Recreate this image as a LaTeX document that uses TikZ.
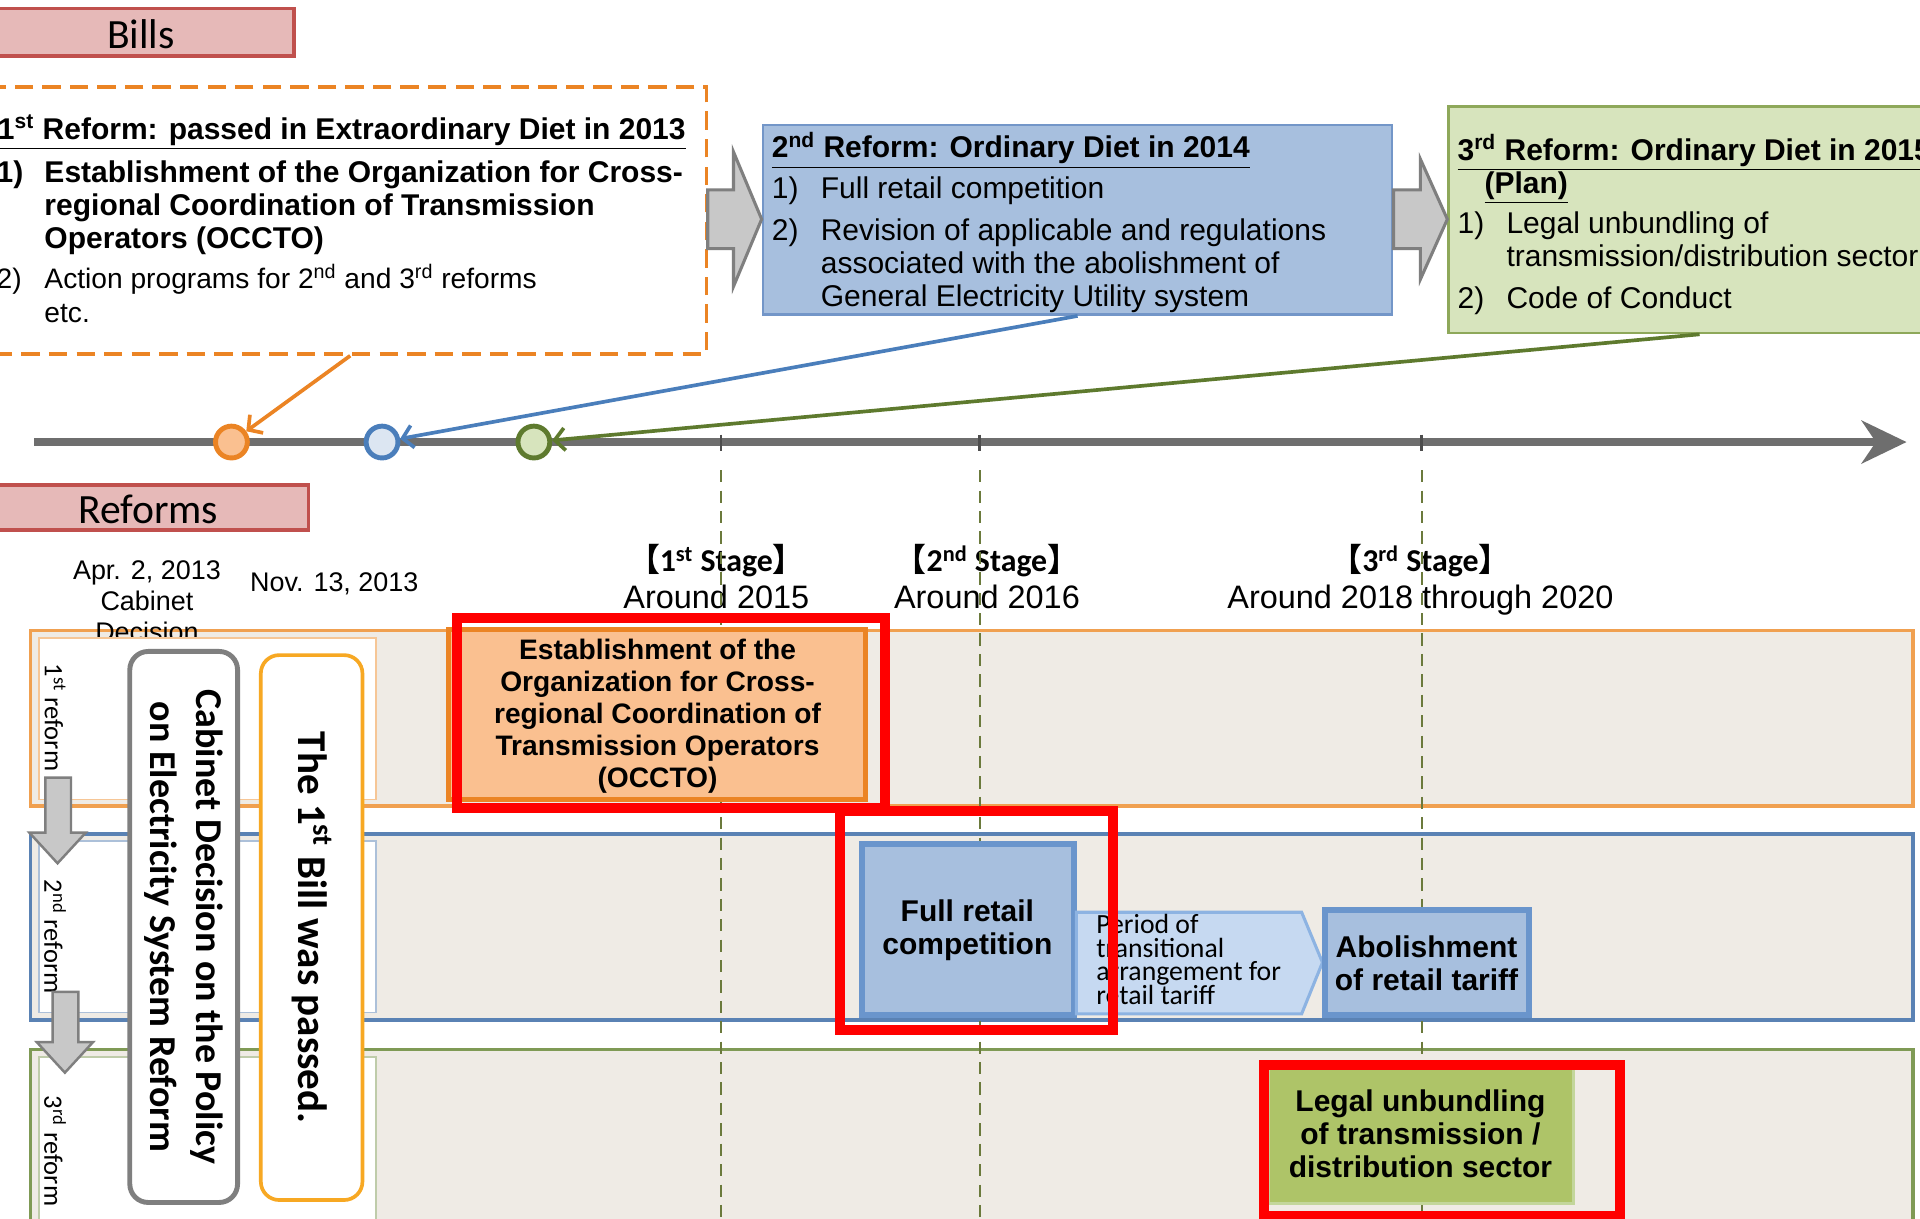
\documentclass[tikz,border=0pt]{standalone}
\usepackage{fontspec}
\setmainfont{Liberation Sans}
\newfontfamily\calfont{Carlito}
\newfontfamily\cjkfont{Noto Sans CJK JP}
\usetikzlibrary{arrows.meta,fit}
\definecolor{pinkF}{HTML}{E6B9B8}
\definecolor{pinkD}{HTML}{C0504D}
\definecolor{orgD}{HTML}{EB8424}
\definecolor{orgL}{HTML}{FAC090}
\definecolor{bluF}{HTML}{A7BFDE}
\definecolor{bluE}{HTML}{7396C8}
\definecolor{bluD}{HTML}{4A7EBB}
\definecolor{bluL}{HTML}{DCE6F2}
\definecolor{grnF}{HTML}{D7E4BD}
\definecolor{grnE}{HTML}{8EA85A}
\definecolor{grnD}{HTML}{5E7A2E}
\definecolor{grayF}{HTML}{C8C8C8}
\definecolor{grayD}{HTML}{7F7F7F}
\definecolor{tlC}{HTML}{6E6E6E}
\definecolor{bandF}{HTML}{EFEBE5}
\definecolor{orgB}{HTML}{F0A050}
\definecolor{bluB}{HTML}{5A82B4}
\definecolor{grnB}{HTML}{7F9A55}
\definecolor{frB}{HTML}{6A95CC}
\definecolor{perF}{HTML}{C6D9F1}
\definecolor{perB}{HTML}{8DB3E2}
\definecolor{legF}{HTML}{AEC468}
\definecolor{legB}{HTML}{C3D69B}
\definecolor{vdC}{HTML}{6B7A3C}
\definecolor{yelO}{HTML}{F7A823}
\definecolor{hlR}{HTML}{FF0000}
\newcommand\fbill{\fontsize{14.7pt}{16.2pt}\selectfont}
\newcommand\fbillr{\fontsize{13.8pt}{16.2pt}\selectfont}
\tikzset{
  fitbox/.style={inner sep=0pt},
  tagbox/.style={fitbox, draw=pinkD, fill=pinkF, line width=1.8pt},
  tagtxt/.style={inner sep=0pt, font=\calfont\fontsize{20.4pt}{24pt}\selectfont},
  ln/.style={inner sep=0pt, anchor=base west, font=\fbill},
  lnb/.style={ln, font=\fbill\bfseries},
  lnr/.style={ln, font=\fbillr},
  garrow/.style={fill=grayF, draw=grayD, line width=1.5pt, line join=miter},
  con/.style={line width=1.8pt, -{Straight Barb[length=5pt,width=11pt,line width=1.8pt]}},
  dot/.style={circle, minimum size=15.6pt, inner sep=0pt, line width=2.4pt},
  stg/.style={inner sep=0pt, anchor=base, font=\calfont\bfseries\fontsize{15.6pt}{18pt}\selectfont},
  arnd/.style={inner sep=0pt, anchor=base, font=\fontsize{15.9pt}{18pt}\selectfont},
  band/.style={fitbox, fill=bandF, line width=1.8pt},
  panel/.style={fitbox, fill=white, line width=0.8pt},
  vdash/.style={draw=vdC, line width=1pt, dash pattern=on 6pt off 4pt},
  tick/.style={draw=tlC!70!black, line width=1.2pt},
  rowlab/.style={inner sep=0pt, rotate=-90, font=\calfont\fontsize{13pt}{15pt}\selectfont},
  boxtxt/.style={inner sep=0pt, align=center, font=\bfseries\fontsize{14.7pt}{16.2pt}\selectfont},
  pertxt/.style={inner sep=0pt, anchor=base west, font=\calfont\fontsize{13.6pt}{12pt}\selectfont},
  hl/.style={fitbox, draw=hlR, line width=4.8pt},
}
\begin{document}
\begin{tikzpicture}[x=0.6pt,y=-0.6pt]
\useasboundingbox (0,0) rectangle (1568,995);
\fill[white] (0,0) rectangle (1568,995);

% ---------- Bills ----------
\node[tagbox, fit={(-4,7) (240,46)}] (billsbox) {};
\node[tagtxt] (billstxt) at (115,28) {Bills};

% 1st reform bill (dashed)
\node[fitbox, draw=orgD, line width=1.8pt, dash pattern=on 9pt off 4.5pt, fit={(-5,71) (577,289)}] (bill1) {};
\node[lnb] (b1t) at (-2,114) {\underline{1\textsuperscript{st} Reform: passed in Extraordinary Diet in 2013}};
\node[lnb] (b1n1) at (-3,149) {1)};
\node[lnb] (b1l1) at (36,149) {Establishment of the Organization for Cross-};
\node[lnb] (b1l2) at (36,176) {regional Coordination of Transmission};
\node[lnb] (b1l3) at (36,203) {Operators (OCCTO)};
\node[lnr] (b1n2) at (-3,236) {2)};
\node[lnr] (b1l4) at (36,236) {Action programs for 2\textsuperscript{nd} and 3\textsuperscript{rd} reforms};
\node[lnr] (b1l5) at (36,263) {etc.};

% 2nd reform bill
\node[fitbox, draw=bluE, fill=bluF, line width=1.2pt, fit={(623,102) (1137,257)}] (bill2) {};
\node[lnb] (b2t) at (630,129) {\underline{2\textsuperscript{nd} Reform: Ordinary Diet in 2014}};
\node[ln] (b2n1) at (630,162) {1)};
\node[ln] (b2l1) at (670,162) {Full retail competition};
\node[ln] (b2n2) at (630,196) {2)};
\node[ln] (b2l2) at (670,196) {Revision of applicable and regulations};
\node[ln] (b2l3) at (670,223) {associated with the abolishment of};
\node[ln] (b2l4) at (670,250) {General Electricity Utility system};

% 3rd reform bill
\node[fitbox, draw=grnE, fill=grnF, line width=1.2pt, fit={(1183,87) (1593,272)}] (bill3) {};
\node[lnb] (b3t) at (1190,131) {\underline{3\textsuperscript{rd} Reform: Ordinary Diet in 2015}};
\node[lnb] (b3t2) at (1212,158) {\underline{(Plan)}};
\node[ln] (b3n1) at (1190,191) {1)};
\node[ln] (b3l1) at (1230,191) {Legal unbundling of};
\node[ln] (b3l2) at (1230,218) {transmission/distribution sector};
\node[ln] (b3n2) at (1190,252) {2)};
\node[ln] (b3l3) at (1230,252) {Code of Conduct};

% gray block arrows between bills
\draw[garrow] (578,155) -- (599,155) -- (599,124) -- (622,179) -- (599,234) -- (599,203) -- (578,203) -- cycle;
\draw[garrow] (1138,155) -- (1160,155) -- (1160,130) -- (1182,179) -- (1160,228) -- (1160,203) -- (1138,203) -- cycle;

% ---------- Timeline ----------
\coordinate (tl0) at (28,361);
\coordinate (tl1) at (1557,361);
\draw[draw=tlC, line width=3.6pt, -{Stealth[length=22pt,width=21pt,inset=7pt]}] (tl0) -- (tl1);
\draw[tick] (589,355) -- (589,368);
\draw[tick] (800,355) -- (800,368);
\draw[tick] (1161,355) -- (1161,368);
\node[dot, draw=orgD, fill=orgL] (c1) at (189,361) {};
\node[dot, draw=bluD, fill=bluL] (c2) at (312,361) {};
\node[dot, draw=grnD, fill=grnF] (c3) at (436,361) {};
\draw[con, draw=orgD] (bill1.south) -- (c1);
\draw[con, draw=bluD] (bill2.south) -- (c2);
\draw[con, draw=grnD] (bill3.south) -- (c3);

% ---------- Reforms ----------
\node[tagbox, fit={(-4,396) (252,433)}] (refbox) {};
\node[tagtxt] (reftxt) at (121,416) {Reforms};

% stage labels
\node[stg] (s1) at (585,467) {{\cjkfont 【}1\textsuperscript{st} Stage{\cjkfont 】}};
\node[arnd] (a1) at (585,497) {Around 2015};
\node[stg] (s2) at (806,467) {{\cjkfont 【}2\textsuperscript{nd} Stage{\cjkfont 】}};
\node[arnd] (a2) at (806,497) {Around 2016};
\node[stg] (s3) at (1160,467) {{\cjkfont 【}3\textsuperscript{rd} Stage{\cjkfont 】}};
\node[arnd] (a3) at (1160,497) {Around 2018 through 2020};

% row bands
\node[band, draw=orgB, fit={(25,515) (1562,658)}] (row1) {};
\node[band, draw=bluB, fit={(25,681) (1562,833)}] (row2) {};
\node[band, draw=grnB, fit={(25,857) (1562,1010)}] (row3) {};

% dashed stage lines
\draw[vdash] (589,384) -- (589,1000);
\draw[vdash] (800,384) -- (800,1000);
\draw[vdash] (1161,384) -- (1161,1000);

% date labels
\node[inner sep=0pt, align=center, font=\fontsize{13.2pt}{15pt}\selectfont] (d1) at (120,491) {Apr. 2, 2013\\Cabinet\\Decision};
\node[inner sep=0pt, font=\fontsize{13.2pt}{15pt}\selectfont] (d2) at (273,477) {Nov. 13, 2013};

% inner white panels
\node[panel, draw=orgB!60, fit={(32,521) (307,653)}] (p1) {};
\node[panel, draw=bluB!50, fit={(32,687) (307,827)}] (p2) {};
\node[panel, draw=grnB!50, fit={(32,863) (307,1005)}] (p3) {};
\node[rowlab] (r1) at (45,586) {1\textsuperscript{st} reform};
\node[rowlab] (r2) at (45,765) {2\textsuperscript{nd} reform};
\node[rowlab] (r3) at (45,940) {3\textsuperscript{rd} reform};

% down arrows
\draw[garrow, line width=1.2pt] (37,635) -- (58,635) -- (58,680) -- (70,680) -- (47,705) -- (24,680) -- (37,680) -- cycle;
\draw[garrow, line width=1.2pt] (43,810) -- (64,810) -- (64,851) -- (76,851) -- (53,876) -- (30,851) -- (43,851) -- cycle;

% vertical rounded boxes
\node[fitbox, draw=grayD, fill=white, line width=2.4pt, rounded corners=9pt, fit={(106,532) (194,982)}] (cab) {};
\node[inner sep=0pt, rotate=-90, align=center, font=\calfont\bfseries\fontsize{18.6pt}{22.5pt}\selectfont] (cabt) at (cab.center) {Cabinet Decision on the Policy\\on Electricity System Reform};
\node[fitbox, draw=yelO, fill=white, line width=1.8pt, rounded corners=9pt, fit={(213,535) (296,980)}] (bill) {};
\node[inner sep=0pt, rotate=-90, font=\calfont\bfseries\fontsize{20.1pt}{24pt}\selectfont] (billt) at (bill.center) {The 1\textsuperscript{st} Bill was passed.};

% OCCTO
\node[fitbox, draw=orgD, fill=orgL, line width=2.6pt, fit={(366,514) (707,653)}] (occto) {};
\node[boxtxt, font=\bfseries\fontsize{13.8pt}{15.6pt}\selectfont] (occtot) at (537,585) {Establishment of the\\Organization for Cross-\\regional Coordination of\\Transmission Operators\\(OCCTO)};

% full retail competition
\node[fitbox, draw=frB, fill=bluF, line width=3pt, fit={(704,689) (877,829)}] (frc) {};
\node[boxtxt] (frct) at (790,760) {Full retail\\competition};

% transitional period (pentagon arrow)
\draw[fill=perF, draw=perB, line width=1.5pt] (879,745) -- (1063,745) -- (1080,786) -- (1063,828) -- (879,828) -- cycle;
\node[pertxt] (per1) at (895,762) {Period of};
\node[pertxt] (per2) at (895,782) {transitional};
\node[pertxt] (per3) at (895,801) {arrangement for};
\node[pertxt] (per4) at (895,820) {retail tariff};

% abolishment
\node[fitbox, draw=frB, fill=bluF, line width=3pt, fit={(1082,743) (1249,829)}] (abol) {};
\node[boxtxt] (abolt) at (1165,787) {Abolishment\\of retail tariff};

% legal unbundling
\node[fitbox, draw=legB, fill=legF, line width=1.2pt, fit={(1036,873) (1285,983)}] (legal) {};
\node[boxtxt] (legalt) at (1160,926) {Legal unbundling\\of transmission /\\distribution sector};

% red highlight frames
\node[hl, fit={(373,505) (723,660)}] (hl1) {};
\node[hl, fit={(686,662) (909,841)}] (hl2) {};
\node[hl, fit={(1032,870) (1323,993)}] (hl3) {};
\end{tikzpicture}
\end{document}
